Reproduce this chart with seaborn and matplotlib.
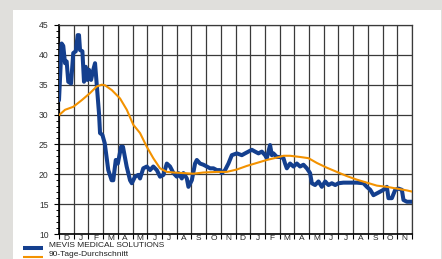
import numpy as np
import pandas as pd
import matplotlib
matplotlib.use("Agg")
import matplotlib.pyplot as plt
import seaborn as sns
from matplotlib.patches import Rectangle
from matplotlib.lines import Line2D
from matplotlib.ticker import MultipleLocator, FixedLocator

# ---- data (x in months since start of December, y in EUR) ----
price_x = [0.0, 0.18, 0.29, 0.41, 0.52, 0.63, 0.82, 0.97, 1.14, 1.27, 1.36, 1.43, 1.59, 1.70,
           1.82, 1.93, 2.04, 2.18, 2.33, 2.45, 2.56, 2.72, 2.79, 2.95, 3.11, 3.35, 3.58, 3.69,
           3.86, 4.0, 4.22, 4.35, 4.6, 4.83, 4.95, 5.17, 5.39, 5.51, 5.73, 5.97, 6.19, 6.41,
           6.65, 6.87, 7.10, 7.33, 7.55, 7.78, 8.01, 8.12, 8.35, 8.46, 8.69, 8.80, 9.03, 9.25,
           9.37, 9.59, 9.82, 10.05, 10.27, 10.50, 10.73, 10.95, 11.07, 11.29, 11.52, 11.75,
           12.09, 12.43, 12.65, 12.88, 13.11, 13.33, 13.56, 13.79, 14.01, 14.13, 14.24, 14.35,
           14.47, 14.58, 14.81, 15.03, 15.26, 15.37, 15.49, 15.71, 15.94, 16.17, 16.39, 16.62,
           16.85, 17.07, 17.19, 17.41, 17.64, 17.87, 18.10, 18.32, 18.55, 18.78, 19.0, 19.34,
           19.80, 20.25, 20.70, 20.93, 21.16, 21.38, 21.61, 21.84, 22.06, 22.29, 22.40, 22.63,
           22.86, 23.08, 23.31, 23.42, 23.65, 24.0]
price_y = [32.4, 41.9, 41.5, 38.6, 38.9, 35.5, 35.2, 40.3, 40.6, 43.3, 43.3, 40.8, 40.6, 35.5,
           38.0, 35.8, 37.5, 35.8, 37.5, 38.6, 35.2, 30.2, 26.9, 26.6, 25.2, 20.7, 19.0, 19.0,
           22.4, 21.8, 24.6, 24.6, 21.3, 19.0, 18.5, 19.6, 19.9, 19.3, 21.0, 21.3, 20.7, 21.3,
           20.7, 19.6, 19.9, 21.8, 21.3, 20.2, 19.6, 20.2, 19.3, 20.2, 19.3, 17.9, 19.0, 21.8,
           22.4, 21.8, 21.6, 21.3, 21.0, 21.0, 20.7, 20.7, 20.2, 20.7, 21.8, 23.2,
           23.5, 23.2, 23.5, 23.8, 24.1, 23.8, 23.5, 23.8, 23.2, 22.7, 23.8, 24.9,
           23.2, 23.5, 22.9, 22.9, 22.7, 21.8, 21.0, 21.8, 21.3, 21.8, 21.3, 21.6,
           21.0, 20.2, 18.5, 18.2, 18.8, 17.9, 18.8, 18.2, 18.5, 18.2, 18.5, 18.6,
           18.6, 18.6, 18.5, 17.9, 17.4, 16.5, 16.8, 17.1, 17.4, 17.9, 16.0, 16.0,
           17.4, 17.6, 17.4, 15.7, 15.4, 15.4]

avg_x = [0.0, 0.41, 0.97, 1.54, 2.11, 2.56, 2.90, 3.13, 3.59, 4.15, 4.61, 5.05, 5.51, 5.97,
         6.41, 6.87, 7.33, 7.78, 8.46, 9.14, 9.82, 10.73, 11.41, 12.09, 12.77, 13.45, 14.13,
         14.81, 15.26, 15.71, 16.39, 16.96, 17.53, 18.21, 18.89, 19.57, 20.25, 20.93, 21.61,
         22.29, 22.97, 23.65, 24.0]
avg_y = [29.9, 30.8, 31.3, 32.4, 33.6, 34.7, 35.0, 34.9, 34.1, 32.7, 30.8, 28.3, 26.9, 24.6,
         22.7, 21.0, 20.4, 20.3, 20.2, 20.1, 20.3, 20.4, 20.4, 20.8, 21.4, 21.9, 22.4,
         22.8, 23.1, 23.1, 22.9, 22.7, 21.9, 21.1, 20.4, 19.7, 19.1, 18.6, 18.1,
         17.9, 17.6, 17.3, 17.1]

month_labels = ["D", "J", "F", "M", "A", "M", "J", "J", "A", "S", "O", "N",
                "D", "J", "F", "M", "A", "M", "J", "J", "A", "S", "O", "N"]
series_names = ["MEVIS MEDICAL SOLUTIONS", "90-Tage-Durchschnitt"]
y_ticks = [10, 15, 20, 25, 30, 35, 40, 45]

BLUE = "#143f8e"
ORANGE = "#f39200"
W, H = 442, 259

sns.set_style("white")
plt.rcParams["font.family"] = ["Liberation Sans", "DejaVu Sans"]

fig = plt.figure(figsize=(4.42, 2.59), dpi=100)
fig.patch.set_facecolor("#e0dfdc")
fig.add_artist(Rectangle((13 / W, 0), (441 - 13) / W, 249 / H,
                         transform=fig.transFigure, facecolor="white", edgecolor="none", zorder=0))

ax = fig.add_axes([59 / W, 1 - 234 / H, (412 - 59) / W, (234 - 25) / H])
ax.set_facecolor("white")

df_p = pd.DataFrame({"x": price_x, "y": price_y})
df_a = pd.DataFrame({"x": avg_x, "y": avg_y})
sns.lineplot(data=df_p, x="x", y="y", ax=ax, color=BLUE, lw=2.9, zorder=4, legend=False)
sns.lineplot(data=df_a, x="x", y="y", ax=ax, color=ORANGE, lw=1.5, zorder=5, legend=False)

ax.set_xlim(0, 24)
ax.set_ylim(10, 45)
ax.set_xlabel("")
ax.set_ylabel("")

# grid / ticks
ax.xaxis.set_major_locator(FixedLocator(np.arange(0, 25)))
ax.xaxis.set_minor_locator(FixedLocator(np.arange(0.5, 24, 1)))
ax.set_xticklabels([])
ax.set_xticklabels(month_labels, minor=True)
ax.yaxis.set_major_locator(FixedLocator(y_ticks))
ax.yaxis.set_minor_locator(MultipleLocator(1))
ax.set_yticklabels([str(t) for t in y_ticks])

ax.grid(True, which="major", axis="both", color="#3a3a3a", lw=0.9, zorder=1)
ax.tick_params(axis="x", which="major", direction="out", length=3.5, width=0.8, color="black", bottom=True)
ax.tick_params(axis="x", which="minor", length=0, labelsize=6.0, colors="#222222", pad=0.5, bottom=True)
ax.tick_params(axis="y", which="major", direction="out", length=3.5, width=0.8, color="black",
               labelsize=6.2, labelcolor="#333333", pad=4, left=True)
ax.tick_params(axis="y", which="minor", direction="out", length=2, width=0.7, color="black", left=True)

for side in ["left", "bottom"]:
    ax.spines[side].set_color("black")
    ax.spines[side].set_linewidth(1.2)
for side in ["top", "right"]:
    ax.spines[side].set_color("#3a3a3a")
    ax.spines[side].set_linewidth(0.9)

# legend (manual layout below the axis)
legend_rows = [(series_names[0], BLUE, 2.9, 248.3, 245.8),
               (series_names[1], ORANGE, 1.5, 257.3, 254.6)]
for name, col, lw, ly, ty in legend_rows:
    fig.add_artist(Line2D([23 / W, 43 / W], [1 - ly / H, 1 - ly / H], color=col, lw=lw,
                          transform=fig.transFigure, solid_capstyle="butt"))
    fig.text(49 / W, 1 - ty / H, name, fontsize=6.0, color="#222222", va="center", ha="left")

fig.savefig("out.png", dpi=100, facecolor=fig.get_facecolor())
